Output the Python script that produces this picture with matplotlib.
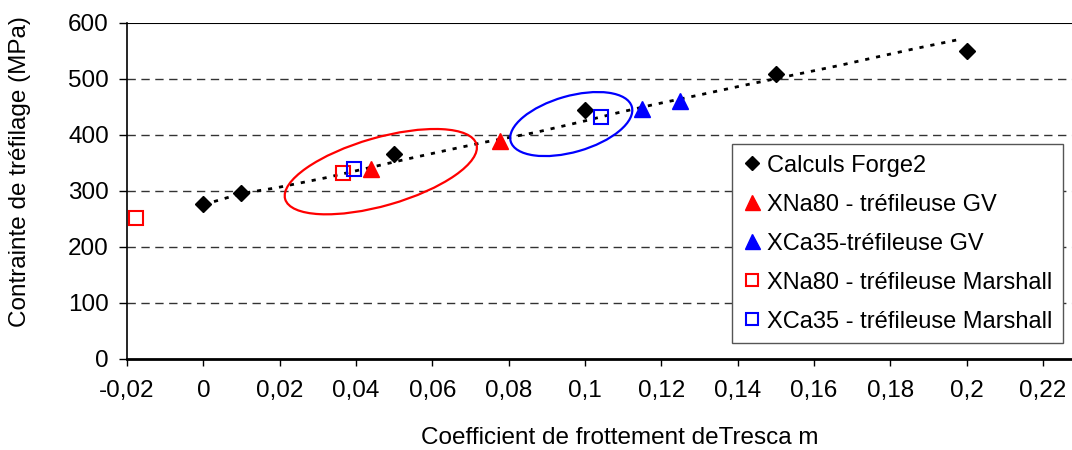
import matplotlib
matplotlib.use("Agg")
import matplotlib.pyplot as plt
from matplotlib.patches import Ellipse
from matplotlib.transforms import ScaledTranslation

plt.rcParams['font.family'] = ['Liberation Sans', 'DejaVu Sans']

# Calculs Forge2
forge_x = [0, 0.01, 0.05, 0.1, 0.15, 0.2]
forge_y = [276, 296, 366, 444, 508, 550]

# XNa80 - trefileuse GV
na_gv_x = [0.0438, 0.0776]
na_gv_y = [339, 388]

# XCa35 - trefileuse GV
ca_gv_x = [0.1149, 0.1248]
ca_gv_y = [446, 460]

# XNa80 - trefileuse Marshall
na_m_x = [-0.0176, 0.0365]
na_m_y = [252, 331]

# XCa35 - trefileuse Marshall
ca_m_x = [0.0396, 0.1042]
ca_m_y = [338, 431]

# dotted trend line
trend_x = [0, 0.01, 0.019, 0.032, 0.053, 0.065, 0.074, 0.087, 0.099, 0.1085,
           0.1175, 0.130, 0.1415, 0.1669, 0.176, 0.186, 0.198]
trend_y = [275, 295, 305, 323, 356, 374, 387, 404, 423, 439,
           453, 471, 488, 524, 538, 553, 570]

xtick_vals = [-0.02, 0, 0.02, 0.04, 0.06, 0.08, 0.1, 0.12, 0.14, 0.16, 0.18, 0.2, 0.22]
xtick_labels = ["-0,02", "0", "0,02", "0,04", "0,06", "0,08", "0,1", "0,12",
                "0,14", "0,16", "0,18", "0,2", "0,22"]
ytick_vals = [0, 100, 200, 300, 400, 500, 600]

fs = 17.5

fig = plt.figure(figsize=(10.72, 4.5), dpi=100)
ax = fig.add_axes([127/1072, 1 - 358.7/450, 1 - 127/1072, (358.7 - 22.7)/450])

for yv in ytick_vals[1:-1]:
    ax.axhline(yv, color="#333333", lw=1, ls=(0, (6, 4)), zorder=1)
ax.axhline(600, color="black", lw=1.5, zorder=1)

ax.plot(trend_x, trend_y, color="black", lw=2, ls=(0, (1.5, 2.5)), zorder=2)

ax.plot(forge_x, forge_y, ls="none", marker="D", ms=8, color="black",
        label="Calculs Forge2", zorder=4)
ax.plot(na_gv_x, na_gv_y, ls="none", marker="^", ms=12, color="#ff0000",
        label="XNa80 - tréfileuse GV", zorder=4)
ax.plot(ca_gv_x, ca_gv_y, ls="none", marker="^", ms=12, color="#0000ff",
        label="XCa35-tréfileuse GV", zorder=4)
ax.plot(na_m_x, na_m_y, ls="none", marker="s", ms=10, mfc="none", mec="#ff0000",
        mew=1.5, label="XNa80 - tréfileuse Marshall", zorder=4)
ax.plot(ca_m_x, ca_m_y, ls="none", marker="s", ms=10, mfc="none", mec="#0000ff",
        mew=1.5, label="XCa35 - tréfileuse Marshall", zorder=4)

# ellipses drawn in pixel units around the data centres
for cx, cy, w, h, col in [(0.0465, 334, 199, 68, "#ff0000"), (0.0964, 419, 126, 56, "#0000ff")]:
    tr = fig.dpi_scale_trans + ScaledTranslation(cx, cy, ax.transData)
    ax.add_patch(Ellipse((0, 0), w / 100, h / 100, angle=16, fill=False,
                         ec=col, lw=1.6, transform=tr, zorder=3))

ax.set_xlim(-0.02, 0.2276)
ax.set_ylim(0, 600)
ax.set_xticks(xtick_vals)
ax.set_xticklabels(xtick_labels)
ax.set_yticks(ytick_vals)
ax.tick_params(axis="x", direction="out", length=5, pad=10, labelsize=fs, width=1)
ax.tick_params(axis="y", direction="out", length=6, pad=7, labelsize=fs, width=1)

for s in ["top", "right"]:
    ax.spines[s].set_visible(False)
ax.spines["left"].set_linewidth(1.2)
ax.spines["bottom"].set_linewidth(2)

leg = ax.legend(loc="upper left", bbox_to_anchor=(732/1072, 1 - 144/450),
                bbox_transform=fig.transFigure, fontsize=17, frameon=True,
                fancybox=False, edgecolor="#555555", framealpha=1,
                handlelength=0.8, handletextpad=0.25, labelspacing=0.72,
                borderpad=0.45, borderaxespad=0, markerscale=0.9)
leg.get_frame().set_linewidth(1)

fig.text(20/1072, 1 - 172/450, "Contrainte de tréfilage (MPa)", rotation=90,
         ha="center", va="center", fontsize=fs)
fig.text(620/1072, 1 - 438/450, "Coefficient de frottement deTresca m",
         ha="center", va="center", fontsize=fs)

fig.savefig("out.png", dpi=100)
